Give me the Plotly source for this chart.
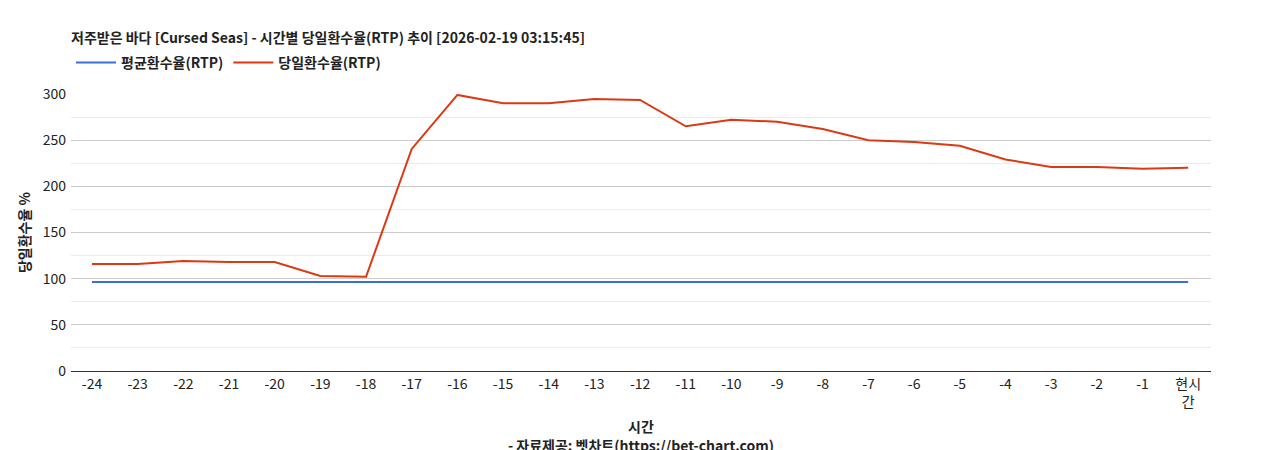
import plotly.graph_objects as go

categories = ["-24","-23","-22","-21","-20","-19","-18","-17","-16","-15","-14","-13","-12",
              "-11","-10","-9","-8","-7","-6","-5","-4","-3","-2","-1","현시<br>간"]
avg_rtp = [96.4]*25
daily_rtp = [116,116,119,118,118,103,102,240.5,299,290,290,294.7,293.6,265,272,270,262,250,248,244,229,221,221,219,220]

font = "Noto Sans CJK KR"
fig = go.Figure()
fig.add_trace(go.Scatter(x=list(range(len(categories))), y=avg_rtp, mode="lines", name="<b>평균환수율(RTP)</b>",
                         line=dict(color="#3c6fd6", width=2)))
fig.add_trace(go.Scatter(x=list(range(len(categories))), y=daily_rtp, mode="lines", name="<b>당일환수율(RTP)</b>",
                         line=dict(color="#dc3912", width=2)))
fig.update_layout(
    width=1268, height=450, plot_bgcolor="white", paper_bgcolor="white",
    font=dict(family=font, size=14, color="#222"),
    margin=dict(l=63, r=65, t=86, b=87, autoexpand=False),
    title=dict(text="<b>저주받은 바다 [Cursed Seas] - 시간별 당일환수율(RTP) 추이 [2026-02-19 03:15:45]</b>",
               x=63/1268, xanchor="left", y=1-30/450, yanchor="middle", font=dict(size=14, color="#222")),
    legend=dict(orientation="h", x=0, xanchor="left", y=1+31/277, yanchor="middle",
                font=dict(size=14), itemwidth=40),
    showlegend=True,
    xaxis=dict(showline=True, linecolor="#333", ticks="", tickfont=dict(size=14),
               tickmode="array", tickvals=list(range(len(categories))), ticktext=categories,
               range=[-0.46, 24.5], showgrid=False, zeroline=False, automargin=False,
               title=dict(text="<b>시간</b><br><b>- 자료제공: 벳차트(https://bet-chart.com)</b>", font=dict(size=14), standoff=12)),
    yaxis=dict(range=[0,300], dtick=50, gridcolor="#cccccc", zeroline=False, tickfont=dict(size=14),
               automargin=False, ticklabelstandoff=4,
               minor=dict(dtick=25, showgrid=True, gridcolor="#ebebeb"),
               title=dict(text="<b>당일환수율 %</b>", font=dict(size=14), standoff=8)),
)
fig.write_html("out.html")
